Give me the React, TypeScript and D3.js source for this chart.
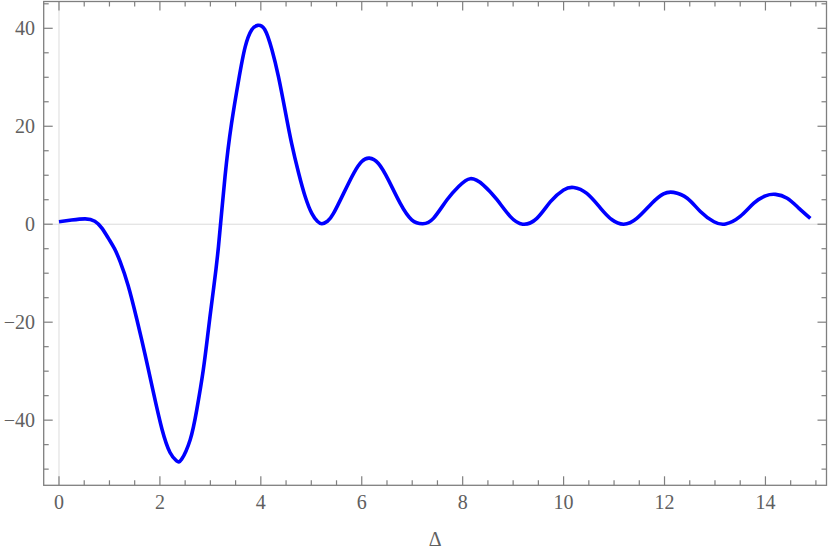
import React from "react";
import * as d3 from "d3";

const xs = [0.0, 0.25, 0.52, 0.71, 0.85, 0.98, 1.1, 1.21, 1.37, 1.54, 1.71, 1.87, 2.04, 2.2, 2.33, 2.43, 2.6, 2.73, 2.86, 2.96, 3.06, 3.16, 3.29, 3.42, 3.56, 3.69, 3.82, 3.94, 4.08, 4.22, 4.35, 4.48, 4.61, 4.75, 4.88, 5.01, 5.12, 5.21, 5.32, 5.44, 5.64, 5.84, 6.0, 6.15, 6.33, 6.53, 6.76, 6.99, 7.21, 7.42, 7.69, 7.92, 8.15, 8.41, 8.68, 8.94, 9.19, 9.47, 9.74, 10.0, 10.2, 10.46, 10.73, 10.96, 11.19, 11.45, 11.75, 11.98, 12.18, 12.45, 12.71, 12.98, 13.21, 13.5, 13.77, 14.0, 14.2, 14.43, 14.66, 14.89];
const ys = [0.5, 0.85, 1.1, 0.6, -0.8, -2.9, -5.0, -7.6, -12.5, -19.3, -26.8, -34.3, -41.8, -46.6, -48.3, -48.0, -44, -37.9, -29.7, -21.6, -13.4, -4.6, 9.7, 20.6, 29.4, 36.2, 39.7, 40.6, 39.7, 35.6, 30.1, 23.3, 16.5, 10.4, 5.6, 2.2, 0.6, 0.1, 0.6, 2.2, 6.3, 10.4, 12.8, 13.5, 12.4, 9.0, 4.3, 0.9, 0.1, 1.2, 5.0, 7.7, 9.3, 8.0, 5.0, 1.6, 0.0, 1.2, 4.6, 7.0, 7.5, 6.3, 3.3, 0.9, 0.0, 1.2, 4.3, 6.2, 6.5, 5.3, 2.6, 0.5, 0.05, 1.6, 4.3, 5.8, 6.1, 5.3, 3.3, 1.2];

const xMajor = [0, 2, 4, 6, 8, 10, 12, 14];
const yMajor = [-40, -20, 0, 20, 40];
const xLabel = "Δ";

const W = 830;
const H = 554;
const L = 43.7, R = 826.5, T = 1.5, B = 485.3;

export default function App() {
  const x = d3.scaleLinear().domain([-0.303, 15.21]).range([L, R]);
  const y = d3.scaleLinear().domain([-53.3, 45.47]).range([B, T]);
  const pts = xs.map((v, i) => [v, ys[i]] as [number, number]);
  const line = d3.line<[number, number]>().x(d => x(d[0])).y(d => y(d[1])).curve(d3.curveNatural);

  const xMinor = d3.range(0, 15.2, 0.5).filter(v => x(v) > L + 1 && x(v) < R - 1 && !xMajor.includes(v));
  const yMinor = d3.range(-50, 46, 5).filter(v => y(v) < B - 1 && y(v) > T + 1 && !yMajor.includes(v));
  const gray = "#7f7f7f";
  const textCol = "#606060";
  const font = "Liberation Serif, Times New Roman, serif";
  const fmt = (v: number) => (v < 0 ? "\u2212" + Math.abs(v) : String(v));
  const ts = { fontFamily: font, fontSize: "20px" };

  return (
    <svg width={W} height={H} style={{ position: "absolute", left: 0, top: 0 }}>
      <rect x={0} y={0} width={W} height={H} fill="#fff" />
      <line x1={x(0)} x2={x(0)} y1={T} y2={B} stroke="#dcdcdc" strokeWidth={1} />
      <line x1={L} x2={R} y1={y(0)} y2={y(0)} stroke="#dcdcdc" strokeWidth={1} />
      <path d={line(pts) || ""} fill="none" stroke="#0000ff" strokeWidth={3.6} strokeLinejoin="round" />
      <rect x={L} y={T} width={R - L} height={B - T} fill="none" stroke={gray} strokeWidth={1.3} />
      {xMajor.map(v => (
        <g key={"xm" + v}>
          <line x1={x(v)} x2={x(v)} y1={B} y2={B - 9} stroke={gray} strokeWidth={1.2} />
          <line x1={x(v)} x2={x(v)} y1={T} y2={T + 9} stroke={gray} strokeWidth={1.2} />
          <text x={x(v)} y={509} textAnchor="middle" style={ts} fill={textCol}>{fmt(v)}</text>
        </g>
      ))}
      {xMinor.map(v => (
        <g key={"xn" + v}>
          <line x1={x(v)} x2={x(v)} y1={B} y2={B - 5} stroke={gray} strokeWidth={1.2} />
          <line x1={x(v)} x2={x(v)} y1={T} y2={T + 5} stroke={gray} strokeWidth={1.2} />
        </g>
      ))}
      {yMajor.map(v => (
        <g key={"ym" + v}>
          <line x1={L} x2={L + 9} y1={y(v)} y2={y(v)} stroke={gray} strokeWidth={1.2} />
          <line x1={R} x2={R - 9} y1={y(v)} y2={y(v)} stroke={gray} strokeWidth={1.2} />
          <text x={35} y={y(v) + 7} textAnchor="end" style={ts} fill={textCol}>{fmt(v)}</text>
        </g>
      ))}
      {yMinor.map(v => (
        <g key={"yn" + v}>
          <line x1={L} x2={L + 5} y1={y(v)} y2={y(v)} stroke={gray} strokeWidth={1.2} />
          <line x1={R} x2={R - 5} y1={y(v)} y2={y(v)} stroke={gray} strokeWidth={1.2} />
        </g>
      ))}
      <text x={(L + R) / 2} y={546} textAnchor="middle" style={ts} fill={textCol}>{xLabel}</text>
    </svg>
  );
}
